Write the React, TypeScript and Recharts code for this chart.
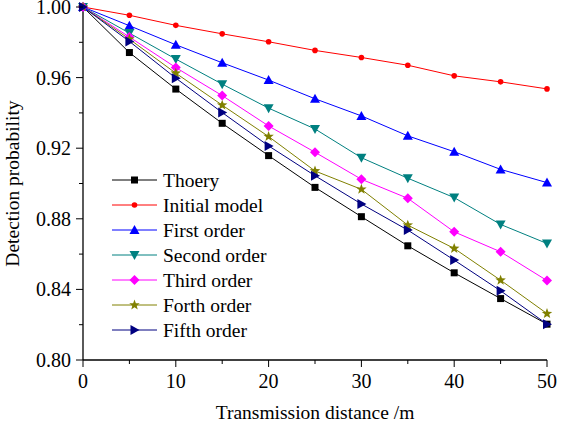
import React from 'react';
import { LineChart, Line, XAxis, YAxis } from 'recharts';

// transmission distance in metres
const distances = [0, 5, 10, 15, 20, 25, 30, 35, 40, 45, 50];

const theory = [1.0, 0.9742, 0.9535, 0.9341, 0.9158, 0.8978, 0.8812, 0.8647, 0.8494, 0.8348, 0.8203];
const initialModel = [1.0, 0.9953, 0.9896, 0.9848, 0.9803, 0.9754, 0.9714, 0.967, 0.961, 0.9576, 0.9536];
const firstOrder = [1.0, 0.9894, 0.9786, 0.9684, 0.9586, 0.948, 0.9383, 0.927, 0.918, 0.908, 0.9005];
const secondOrder = [1.0, 0.9852, 0.9705, 0.9563, 0.9427, 0.9309, 0.9146, 0.903, 0.892, 0.8768, 0.866];
const thirdOrder = [1.0, 0.983, 0.9657, 0.9498, 0.9326, 0.9177, 0.9024, 0.8916, 0.8726, 0.8613, 0.845];
const forthOrder = [1.0, 0.9818, 0.9625, 0.9444, 0.9266, 0.9071, 0.8967, 0.8764, 0.8632, 0.8452, 0.8263];
const fifthOrder = [1.0, 0.9805, 0.9597, 0.9402, 0.9213, 0.9044, 0.8884, 0.8736, 0.8566, 0.8392, 0.8203];

const xTicks = [0, 5, 10, 15, 20, 25, 30, 35, 40, 45, 50];
const yTicks = [0.8, 0.82, 0.84, 0.86, 0.88, 0.9, 0.92, 0.94, 0.96, 0.98, 1.0];

type Shape = 'square' | 'circle' | 'triUp' | 'triDown' | 'diamond' | 'star' | 'triRight';

const series: { key: string; name: string; color: string; shape: Shape; values: number[] }[] = [
  { key: 'theory', name: 'Thoery', color: '#000000', shape: 'square', values: theory },
  { key: 'initial', name: 'Initial model', color: '#ff0000', shape: 'circle', values: initialModel },
  { key: 'first', name: 'First order', color: '#0000ff', shape: 'triUp', values: firstOrder },
  { key: 'second', name: 'Second order', color: '#008080', shape: 'triDown', values: secondOrder },
  { key: 'third', name: 'Third order', color: '#ff00ff', shape: 'diamond', values: thirdOrder },
  { key: 'forth', name: 'Forth order', color: '#808000', shape: 'star', values: forthOrder },
  { key: 'fifth', name: 'Fifth order', color: '#000080', shape: 'triRight', values: fifthOrder },
];

const data = distances.map((d, i) => {
  const row: any = { d };
  series.forEach((s) => (row[s.key] = s.values[i]));
  return row;
});

const FONT = '"Liberation Serif", "Times New Roman", serif';

const Marker = ({ cx, cy, shape, color }: { cx: number; cy: number; shape: Shape; color: string }) => {
  switch (shape) {
    case 'square':
      return <rect x={cx - 3.5} y={cy - 3.5} width={7} height={7} fill={color} />;
    case 'circle':
      return <circle cx={cx} cy={cy} r={2.8} fill={color} />;
    case 'triUp':
      return <polygon points={`${cx},${cy - 5} ${cx - 5},${cy + 4} ${cx + 5},${cy + 4}`} fill={color} />;
    case 'triDown':
      return <polygon points={`${cx},${cy + 5} ${cx - 5},${cy - 4} ${cx + 5},${cy - 4}`} fill={color} />;
    case 'triRight':
      return <polygon points={`${cx + 5},${cy} ${cx - 4},${cy - 5} ${cx - 4},${cy + 5}`} fill={color} />;
    case 'diamond':
      return <polygon points={`${cx},${cy - 5} ${cx + 5},${cy} ${cx},${cy + 5} ${cx - 5},${cy}`} fill={color} />;
    case 'star': {
      const pts: string[] = [];
      for (let i = 0; i < 10; i++) {
        const r = i % 2 === 0 ? 5.5 : 2.3;
        const a = -Math.PI / 2 + (i * Math.PI) / 5;
        pts.push(`${cx + r * Math.cos(a)},${cy + r * Math.sin(a)}`);
      }
      return <polygon points={pts.join(' ')} fill={color} />;
    }
  }
  return null;
};

const YTick = (props: any) => {
  const { x, y, payload } = props;
  const v = payload.value;
  const major = Math.round(v * 100) % 4 === 0;
  return (
    <g>
      <line x1={x} y1={y} x2={x - (major ? 7 : 4)} y2={y} stroke="#000" strokeWidth={1} />
      {major && (
        <text x={x - 12} y={y} dy={7} textAnchor="end" fontSize={20} fontFamily={FONT} fill="#000">
          {v.toFixed(2)}
        </text>
      )}
    </g>
  );
};

const XTick = (props: any) => {
  const { x, y, payload } = props;
  const v = payload.value;
  const major = v % 10 === 0;
  return (
    <g>
      <line x1={x} y1={y} x2={x} y2={y + (major ? 7 : 4)} stroke="#000" strokeWidth={1} />
      {major && (
        <text x={x} y={y} dy={28} textAnchor="middle" fontSize={20} fontFamily={FONT} fill="#000">
          {v}
        </text>
      )}
    </g>
  );
};

// legend drawn as an overlay so it does not shrink the plot area
const ChartLegend = () => (
  <svg width={220} height={180} style={{ position: 'absolute', left: 110, top: 168 }}>
    {series.map((s, i) => {
      const cy = 12 + i * 25;
      return (
        <g key={s.key}>
          <line x1={2} y1={cy} x2={47} y2={cy} stroke={s.color} strokeWidth={1} />
          <Marker cx={24.5} cy={cy} shape={s.shape} color={s.color} />
          <text x={53} y={cy} dy={6.5} fontSize={19.5} fontFamily={FONT} fill="#000">
            {s.name}
          </text>
        </g>
      );
    })}
  </svg>
);

export default function App() {
  return (
    <div style={{ position: 'absolute', left: 0, top: 0, width: 566, height: 423, background: '#fff' }}>
      <LineChart width={566} height={423} data={data} margin={{ top: 7, right: 19, left: 0, bottom: 0 }}>
        <XAxis
          dataKey="d"
          type="number"
          domain={[0, 50]}
          ticks={xTicks}
          interval={0}
          tickSize={0}
          tickMargin={0}
          tick={<XTick />}
          height={63}
          axisLine={{ stroke: '#000', strokeWidth: 1.3 }}
          label={{ value: 'Transmission distance /m', position: 'insideBottom', offset: 4, fontSize: 19.5, fontFamily: FONT, fill: '#000' }}
        />
        <YAxis
          type="number"
          domain={[0.8, 1.0]}
          ticks={yTicks}
          interval={0}
          tickSize={0}
          tickMargin={0}
          tick={<YTick />}
          width={83}
          axisLine={{ stroke: '#000', strokeWidth: 1.3 }}
          label={{ value: 'Detection probability', angle: -90, position: 'insideLeft', offset: 12, fontSize: 19.5, fontFamily: FONT, fill: '#000', style: { textAnchor: 'middle' } }}
        />
        {series.map((s) => (
          <Line
            key={s.key}
            dataKey={s.key}
            name={s.name}
            stroke={s.color}
            strokeWidth={1}
            isAnimationActive={false}
            dot={(p: any) => <Marker key={`${s.key}-${p.index}`} cx={p.cx} cy={p.cy} shape={s.shape} color={s.color} />}
            activeDot={false}
          />
        ))}
      </LineChart>
      <ChartLegend />
    </div>
  );
}
